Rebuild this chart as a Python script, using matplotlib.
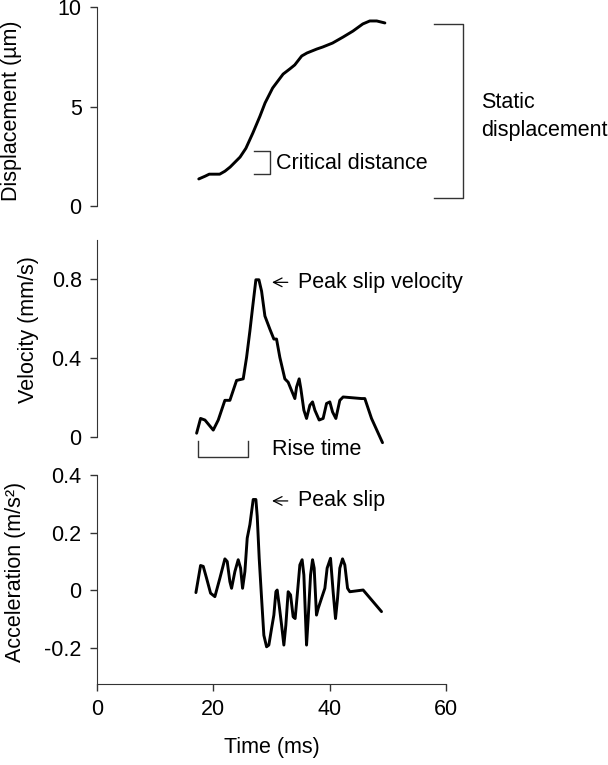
import numpy as np
import matplotlib
matplotlib.use("Agg")
import matplotlib.pyplot as plt

plt.rcParams["font.family"] = ["Liberation Sans", "DejaVu Sans"]
plt.rcParams["font.size"] = 15.5

# slip displacement (um)
disp_t = [17.5, 18.6, 19.3, 21.1, 22.0, 22.9, 24.6, 25.6, 26.8, 28.0, 28.9, 30.2,
          32.0, 33.2, 34.0, 35.2, 36.1, 37.8, 38.8, 40.5, 42.3, 44.0, 45.7, 46.9,
          48.1, 49.5]
disp_v = [1.36, 1.5, 1.6, 1.6, 1.75, 1.96, 2.46, 2.9, 3.67, 4.5, 5.18, 5.93,
          6.63, 6.9, 7.09, 7.54, 7.69, 7.89, 7.99, 8.19, 8.49, 8.79, 9.15, 9.3,
          9.3, 9.2]

# slip velocity (mm/s)
vel_t = [17.13, 17.81, 18.56, 19.99, 20.85, 21.99, 22.85, 24.0, 25.14, 25.72,
         26.29, 26.75, 27.32, 27.84, 28.3, 28.87, 29.73, 30.41, 30.87, 31.44,
         32.3, 32.87, 33.45, 34.02, 34.31, 34.76, 35.05, 35.57, 36.03, 36.6,
         37.06, 37.46, 38.2, 38.88, 39.47, 40.03, 40.5, 41.07, 41.75, 42.32,
         45.48, 46.05, 47.2, 49.09]
vel_v = [0.019, 0.094, 0.086, 0.035, 0.086, 0.186, 0.186, 0.287, 0.295, 0.404,
         0.538, 0.656, 0.798, 0.798, 0.74, 0.614, 0.547, 0.497, 0.497, 0.404,
         0.295, 0.278, 0.236, 0.195, 0.253, 0.295, 0.245, 0.136, 0.094, 0.161,
         0.178, 0.136, 0.086, 0.094, 0.17, 0.178, 0.127, 0.094, 0.186, 0.203,
         0.195, 0.195, 0.094, -0.029]

# slip acceleration (m/s^2)
acc_t = [17.01, 17.81, 18.27, 18.84, 19.53, 20.27, 21.13, 21.99, 22.39, 22.85,
         23.14, 23.71, 24.28, 24.69, 25.03, 25.43, 25.83, 26.29, 26.86, 27.32,
         27.55, 27.89, 28.3, 28.69, 29.16, 29.55, 30.02, 30.41, 30.76, 30.98,
         31.32, 31.74, 32.13, 32.47, 32.87, 33.28, 33.73, 34.07, 34.48, 34.88,
         35.27, 35.57, 36.03, 36.31, 36.72, 37.06, 37.34, 37.74, 38.03, 38.6,
         39.18, 39.57, 40.15, 40.6, 41.01, 41.36, 41.75, 42.22, 42.61, 43.08,
         43.47, 45.76, 48.92]
acc_v = [-0.008, 0.086, 0.083, 0.042, -0.01, -0.022, 0.042, 0.109, 0.1, 0.03,
         0.007, 0.065, 0.106, 0.077, 0.007, 0.065, 0.181, 0.228, 0.315, 0.315,
         0.257, 0.111, -0.028, -0.156, -0.196, -0.19, -0.132, -0.086, -0.005, 0.001,
         -0.051, -0.121, -0.19, -0.121, -0.005, -0.016, -0.092, -0.098, -0.005, 0.088,
         0.106, 0.053, -0.19, -0.098, 0.053, 0.106, 0.077, -0.086, -0.063, -0.028,
         0.007, 0.077, 0.111, -0.005, -0.098, -0.028, 0.077, 0.109, 0.088, 0.007,
         -0.005, 0.001, -0.074]

spine_col = "#333333"
line_kw = dict(color="black", lw=2.1, solid_joinstyle="round", solid_capstyle="round")
brk_kw = dict(color=spine_col, lw=1.0, clip_on=False)

fig = plt.figure(figsize=(6.08, 7.65), dpi=100)
ax1 = fig.add_axes([0.1595, 0.7307, 0.574, 0.2601])
ax2 = fig.add_axes([0.1595, 0.4288, 0.574, 0.2575])
ax3 = fig.add_axes([0.1595, 0.1059, 0.574, 0.2732])

for ax in (ax1, ax2, ax3):
    ax.set_xlim(0, 60)
    for s in ("top", "right"):
        ax.spines[s].set_visible(False)
    ax.spines["left"].set_color(spine_col)
    ax.spines["bottom"].set_color(spine_col)
    ax.tick_params(direction="out", length=5, width=1, color=spine_col, pad=6)

for ax in (ax1, ax2):
    ax.spines["bottom"].set_visible(False)
    ax.set_xticks([])

# displacement
ax1.plot(disp_t, disp_v, **line_kw)
ax1.set_ylim(0, 10)
ax1.set_yticks([0, 5, 10])
ax1.set_ylabel("Displacement (µm)")
ax1.yaxis.set_label_coords(-0.214, 0.48)
ax1.plot([27.0, 29.7, 29.7, 27.0], [2.76, 2.76, 1.61, 1.61], **brk_kw)
ax1.text(30.8, 2.16, "Critical distance", ha="left", va="center")
ax1.plot([57.9, 62.9, 62.9, 57.9], [9.15, 9.15, 0.4, 0.4], **brk_kw)
ax1.text(66.1, 4.5, "Static\ndisplacement", ha="left", va="center",
         linespacing=1.45, clip_on=False)

# velocity
ax2.plot(vel_t, vel_v, clip_on=False, **line_kw)
ax2.set_ylim(0, 1.0)
ax2.set_yticks([0, 0.4, 0.8])
ax2.set_yticklabels(["0", "0.4", "0.8"])
ax2.set_ylabel("Velocity (mm/s)")
ax2.yaxis.set_label_coords(-0.166, 0.543)
ax2.annotate("", xy=(30.1, 0.785), xytext=(32.8, 0.785),
             arrowprops=dict(arrowstyle="->", lw=0.9, color="black",
                             shrinkA=0, shrinkB=0))
ax2.text(34.5, 0.785, "Peak slip velocity", ha="left", va="center")
ax2.plot([17.4, 17.4, 25.9, 25.9], [-0.02, -0.10, -0.10, -0.02], **brk_kw)
ax2.text(30.1, -0.065, "Rise time", ha="left", va="center", clip_on=False)

# acceleration
ax3.plot(acc_t, acc_v, **line_kw)
ax3.set_ylim(-0.325, 0.4)
ax3.set_yticks([-0.2, 0, 0.2, 0.4])
ax3.set_yticklabels(["-0.2", "0", "0.2", "0.4"])
ax3.set_xticks([0, 20, 40, 60])
ax3.set_ylabel("Acceleration (m/s²)")
ax3.yaxis.set_label_coords(-0.203, 0.536)
ax3.set_xlabel("Time (ms)")
ax3.xaxis.set_label_coords(0.5, -0.255)
ax3.xaxis.label.set_va("top")
ax3.annotate("", xy=(30.1, 0.31), xytext=(32.8, 0.31),
             arrowprops=dict(arrowstyle="->", lw=0.9, color="black",
                             shrinkA=0, shrinkB=0))
ax3.text(34.5, 0.31, "Peak slip", ha="left", va="center")

fig.savefig("out.png", dpi=100)
